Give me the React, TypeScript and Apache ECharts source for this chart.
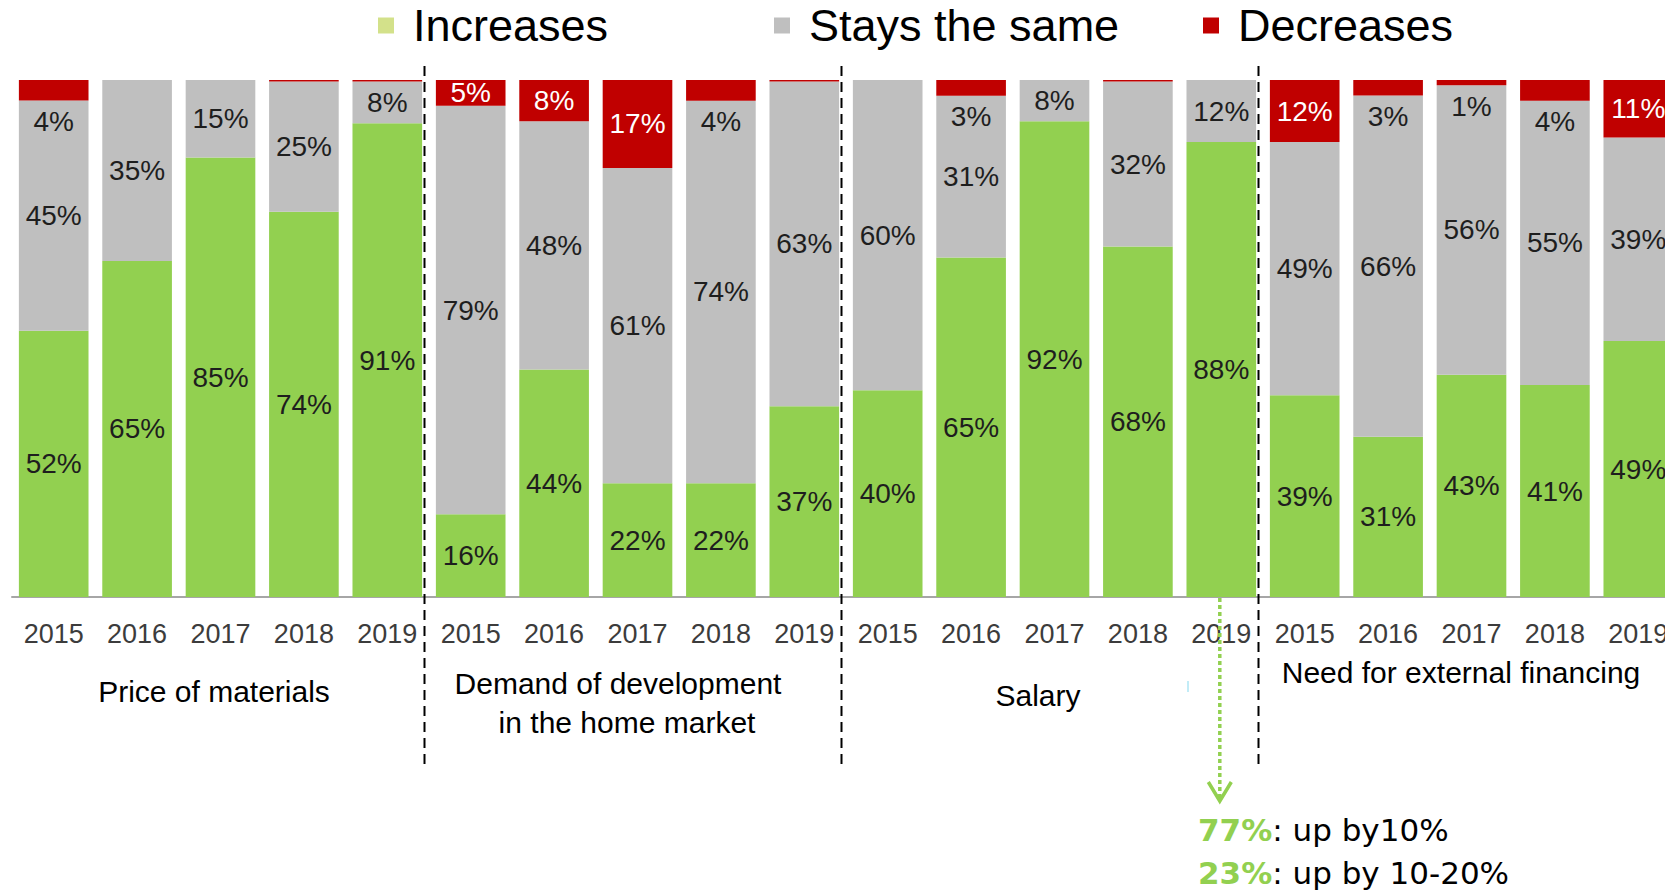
import React, { useEffect, useRef } from "react";
import * as echarts from "echarts";

// ---- data ----
const groups = [
  "Price of materials",
  "Demand of development in the home market",
  "Salary",
  "Need for external financing",
];
const years = ["2015", "2016", "2017", "2018", "2019"];
const legendNames = ["Increases", "Stays the same", "Decreases"];

const increases = [52, 65, 85, 74, 91, 16, 44, 22, 22, 37, 40, 65, 92, 68, 88, 39, 31, 43, 41, 49];
const staysSame = [45, 35, 15, 25, 8, 79, 48, 61, 74, 63, 60, 31, 8, 32, 12, 49, 66, 56, 55, 39];
const decreases = [4, 0, 0, 0.3, 0.3, 5, 8, 17, 4, 0.3, 0, 3, 0, 0.3, 0, 12, 3, 1, 4, 11];

const noteShares = ["77%", "23%"];
const noteTexts = [": up by10%", ": up by 10-20%"];
const noteBarIndex = 14; // Salary 2019

// ---- styling ----
const GREEN = "#92d050";
const GRAY = "#bfbfbf";
const RED = "#c00000";
const LEGEND_COLORS = ["#d3e18a", "#bfbfbf", "#c00000"];
const LEGEND_LEFTS = [373, 769, 1198];
const FONT = "'Liberation Sans', Arial, sans-serif";

const categories = groups.flatMap((_, gi) => years.map((y) => `${gi}|${y}`));
const totals = increases.map((v, i) => v + staysSame[i] + decreases[i]);
const norm = (arr: number[]) => arr.map((v, i) => (v / totals[i]) * 100);
const fmt = (v: number) => `${Math.round(v)}%`;

export default function App() {
  const ref = useRef<HTMLDivElement>(null);

  useEffect(() => {
    if (!ref.current) return;
    const chart = echarts.init(ref.current, undefined, { renderer: "svg" });

    const labelBase = {
      show: true,
      position: "inside",
      fontSize: 28,
      fontFamily: FONT,
      color: "#1e1e1e",
    };

    const redData = norm(decreases).map((v, i) => {
      const raw = decreases[i];
      const show = raw >= 1;
      const inside = raw >= 5;
      return {
        value: v,
        label: {
          show,
          position: inside ? "inside" : "bottom",
          distance: inside ? 5 : 7,
          color: inside ? "#ffffff" : "#1e1e1e",
          fontSize: 28,
          fontFamily: FONT,
          formatter: () => fmt(raw),
        },
      };
    });

    const option: any = {
      animation: false,
      backgroundColor: "#ffffff",
      legend: legendNames.map((n, i) => ({
        data: [{ name: n, itemStyle: { color: LEGEND_COLORS[i] } }],
        left: LEGEND_LEFTS[i],
        top: -2,
        icon: "rect",
        itemWidth: 16,
        itemHeight: 16,
        selectedMode: false,
        textStyle: {
          fontSize: 45,
          fontFamily: FONT,
          color: "#000",
          padding: [0, 0, 0, 14],
        },
      })),
      grid: {
        left: 12,
        top: 80,
        width: 1668,
        height: 517,
        containLabel: false,
        outerBoundsMode: "none",
      },
      xAxis: {
        type: "category",
        data: categories,
        axisTick: { show: false },
        axisLine: { show: true, lineStyle: { color: "#a6a6a6", width: 2 } },
        axisLabel: {
          interval: 0,
          margin: 23,
          fontSize: 27,
          fontFamily: FONT,
          color: "#3c3c3c",
          formatter: (v: string) => v.split("|")[1],
        },
      },
      yAxis: { type: "value", min: 0, max: 100, show: false, splitLine: { show: false } },
      series: [
        {
          name: legendNames[0],
          type: "bar",
          stack: "t",
          barCategoryGap: "16.5%",
          itemStyle: { color: GREEN },
          data: norm(increases),
          label: { ...labelBase, formatter: (p: any) => fmt(increases[p.dataIndex]) },
        },
        {
          name: legendNames[1],
          type: "bar",
          stack: "t",
          itemStyle: { color: GRAY },
          data: norm(staysSame),
          label: { ...labelBase, formatter: (p: any) => fmt(staysSame[p.dataIndex]) },
        },
        {
          name: legendNames[2],
          type: "bar",
          stack: "t",
          itemStyle: { color: RED },
          data: redData,
          label: { show: false },
        },
      ],
    };

    chart.setOption(option);

    // separators and annotations from the axis scale
    const px = (idx: number) => chart.convertToPixel({ xAxisIndex: 0 }, categories[idx]) as number;
    const graphics: any[] = [];
    for (let g = 1; g < groups.length; g++) {
      const i = g * years.length;
      const x = (px(i - 1) + px(i)) / 2 - 4.5;
      graphics.push({
        type: "line",
        shape: { x1: x, y1: 66, x2: x, y2: 767 },
        style: { stroke: "#000", lineWidth: 2, lineDash: [10, 6] },
        z: 10,
      });
    }

    const groupLabels = [
      { text: "Price of materials", x: 214, y: 691 },
      { text: "Demand of development", x: 618, y: 683 },
      { text: "in the home market", x: 627, y: 722 },
      { text: "Salary", x: 1038, y: 695 },
      { text: "Need for external financing", x: 1461, y: 672 },
    ];
    groupLabels.forEach((l) =>
      graphics.push({
        type: "text",
        x: l.x,
        y: l.y,
        style: {
          text: l.text,
          fontSize: 30,
          fontFamily: FONT,
          fill: "#000",
          align: "center",
          verticalAlign: "middle",
        },
        z: 10,
      })
    );

    const ax = px(noteBarIndex) - 1.5;
    graphics.push({
      type: "line",
      shape: { x1: ax, y1: 598, x2: ax, y2: 800 },
      style: { stroke: GREEN, lineWidth: 3.5, lineDash: [4, 3] },
      z: 10,
    });
    graphics.push({
      type: "polyline",
      shape: { points: [[ax - 11.5, 782], [ax, 801], [ax + 11.5, 782]] },
      style: { stroke: GREEN, lineWidth: 3.5, fill: null },
      z: 10,
    });
    graphics.push({
      type: "line",
      shape: { x1: 1188, y1: 681, x2: 1188, y2: 692 },
      style: { stroke: "#aee6f4", lineWidth: 1.5 },
      z: 10,
    });

    noteShares.forEach((s, i) =>
      graphics.push({
        type: "text",
        x: 1198,
        y: 830 + i * 43,
        style: {
          text: `{g|${s}}{t|${noteTexts[i]}}`,
          verticalAlign: "middle",
          align: "left",
          rich: {
            g: { fill: GREEN, fontWeight: "bold", fontSize: 31, fontFamily: "'DejaVu Sans', sans-serif" },
            t: { fill: "#000", fontSize: 31, fontFamily: "'DejaVu Sans', sans-serif" },
          },
        },
        z: 10,
      })
    );

    chart.setOption({ graphic: graphics });

    return () => chart.dispose();
  }, []);

  return (
    <div
      ref={ref}
      style={{ position: "fixed", left: 0, top: 0, width: 1665, height: 892, background: "#fff" }}
    />
  );
}
